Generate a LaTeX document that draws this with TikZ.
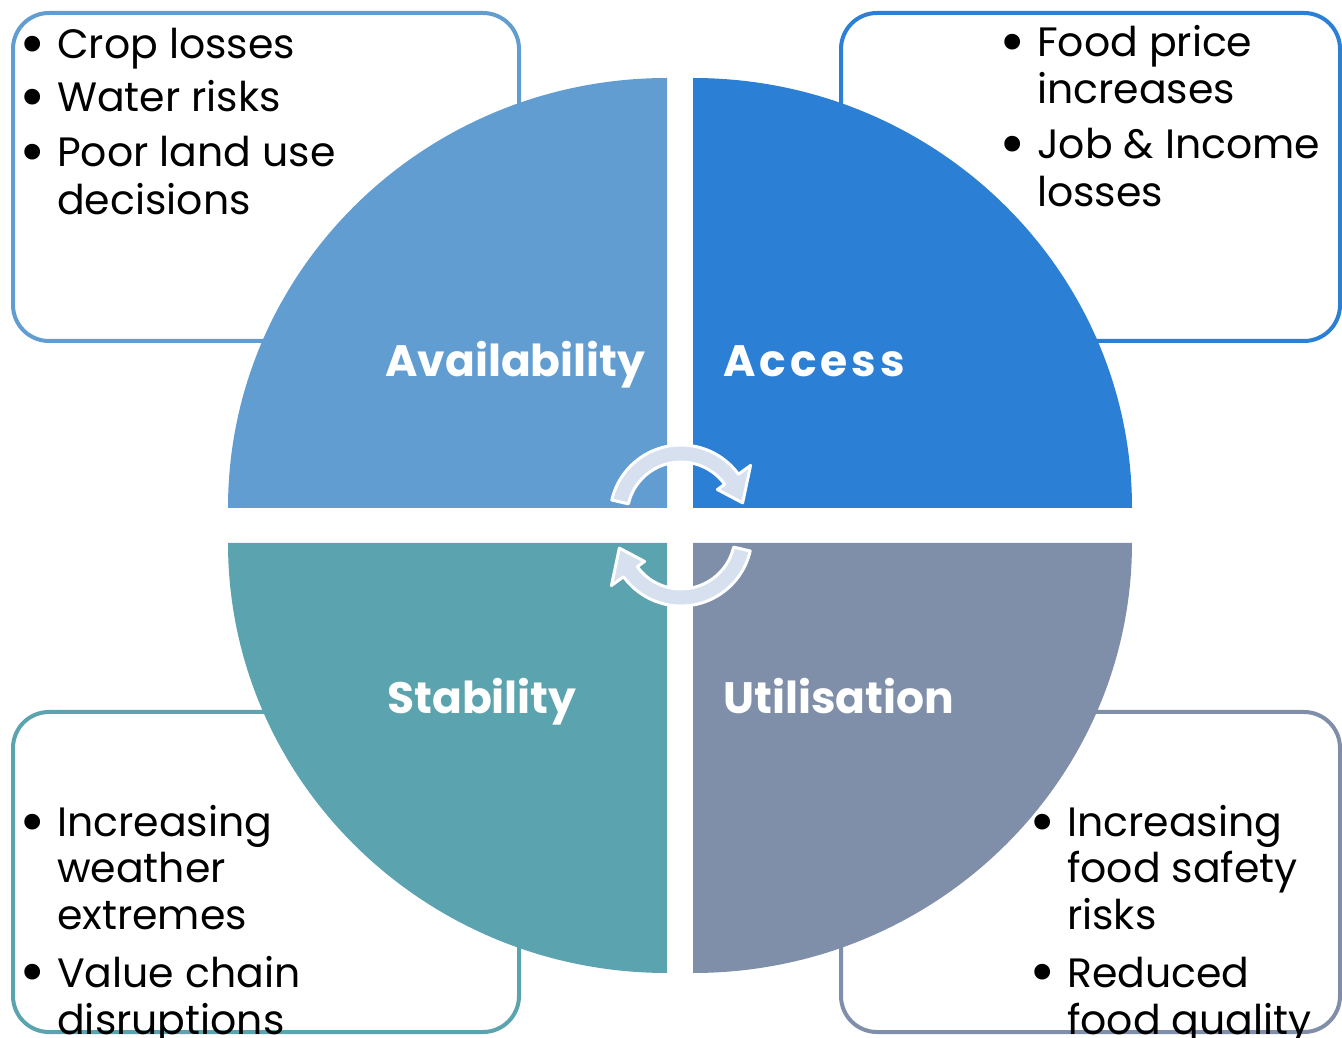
\documentclass[tikz,border=0pt]{standalone}
\usepackage{fontspec}
\setmainfont{Poppins}
\definecolor{qtl}{RGB}{98,157,209}
\definecolor{qtr}{RGB}{43,127,213}
\definecolor{qbl}{RGB}{91,163,174}
\definecolor{qbr}{RGB}{127,143,169}
\definecolor{arrowfill}{RGB}{214,224,239}
\begin{document}
\begin{tikzpicture}[x=1pt,y=1pt,
  box/.style={line width=4pt, rounded corners=36pt, fill=white},
  item/.style={anchor=base west, inner sep=0pt, font=\fontsize{41}{47}\selectfont},
  bul/.style={anchor=center, inner sep=0pt, font=\fontsize{64}{64}\selectfont},
  lab/.style={anchor=base west, inner sep=0pt, text=white, font=\bfseries\fontsize{44}{50}\selectfont},
  cyc/.style={fill=arrowfill, draw=white, line width=3pt, line join=round}]
\useasboundingbox (0,0) rectangle (1342,1037);
\clip (0,0) rectangle (1342,1037);
% boxes
\draw[box, draw=qtl] (13,696) rectangle (519,1024);
\draw[box, draw=qtr] (841,696) rectangle (1340,1024);
\draw[box, draw=qbl] (13,5) rectangle (519,325);
\draw[box, draw=qbr] (841,5) rectangle (1340,325);
% quadrants
\fill[qtl] (667,529) -- (228,529) arc[start angle=180, end angle=90, x radius=439, y radius=430] -- cycle;
\fill[qtr] (693,529) -- (693,959) arc[start angle=90, end angle=0, x radius=439, y radius=430] -- cycle;
\fill[qbl] (667,494) -- (228,494) arc[start angle=180, end angle=270, x radius=439, y radius=430] -- cycle;
\fill[qbr] (693,494) -- (693,64) arc[start angle=270, end angle=360, x radius=439, y radius=430] -- cycle;
% cycle arrows
\begin{scope}[shift={(681,521)}]
\draw[cyc] (167:71) arc[start angle=167, end angle=36, radius=71] -- (36:86) -- (12:63) -- (36:45) -- (36:54) arc[start angle=36, end angle=167, radius=54] -- cycle;
\end{scope}
\begin{scope}[shift={(681,502)}, rotate=180]
\draw[cyc] (167:71) arc[start angle=167, end angle=36, radius=71] -- (36:86) -- (12:63) -- (36:45) -- (36:54) arc[start angle=36, end angle=167, radius=54] -- cycle;
\end{scope}
% labels
\node[lab] (lavail) at (385,660) {Availability};
\node[lab] (lacc) at (723,660) {\addfontfeature{LetterSpace=9}Access};
\node[lab] (lstab) at (387,323) {Stability};
\node[lab] (lutil) at (723,323) {Utilisation};
% top-left box
\node[bul] (b1) at (33,986) {\textbullet};
\node[item] (t1) at (57,978) {Crop losses};
\node[bul] (b2) at (33,933) {\textbullet};
\node[item] (t2) at (57,925) {Water risks};
\node[bul] (b3) at (33,878) {\textbullet};
\node[item] (t3) at (57,870) {Poor land use};
\node[item] (t4) at (57,822) {decisions};
% top-right box
\node[bul] (b5) at (1013,988) {\textbullet};
\node[item] (t5) at (1037,980) {Food price};
\node[item] (t6) at (1037,933) {increases};
\node[bul] (b7) at (1013,886) {\textbullet};
\node[item] (t7) at (1037,878) {Job \& Income};
\node[item] (t8) at (1037,830) {losses};
% bottom-left box
\node[bul] (b9) at (33,208) {\textbullet};
\node[item] (t9) at (57,200) {Increasing};
\node[item] (t10) at (57,154) {weather};
\node[item] (t11) at (57,107) {extremes};
\node[bul] (b12) at (33,58) {\textbullet};
\node[item] (t12) at (57,50) {Value chain};
\node[item] (t13) at (57,3) {disruptions};
% bottom-right box
\node[bul] (b14) at (1043,208) {\textbullet};
\node[item] (t14) at (1067,200) {Increasing};
\node[item] (t15) at (1067,154) {food safety};
\node[item] (t16) at (1067,107) {risks};
\node[bul] (b17) at (1043,58) {\textbullet};
\node[item] (t17) at (1067,50) {Reduced};
\node[item] (t18) at (1067,3) {food quality};
\end{tikzpicture}
\end{document}
